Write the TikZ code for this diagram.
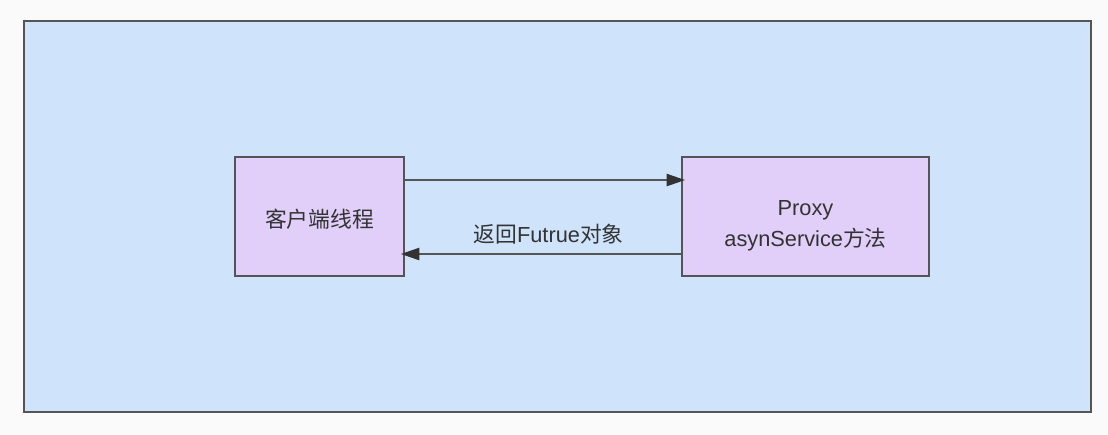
\documentclass[tikz,border=0pt]{standalone}
\usepackage{fontspec}
\setmainfont{Liberation Sans}
\newfontfamily\cjk{Noto Sans CJK SC}
\usetikzlibrary{arrows.meta}
\definecolor{bgblue}{HTML}{CFE3FB}
\definecolor{boxpurple}{HTML}{E1CFF9}
\definecolor{linegray}{HTML}{555555}
\definecolor{tipgray}{HTML}{333333}
\definecolor{textgray}{HTML}{333333}
\definecolor{pagegray}{HTML}{FAFAFA}
\begin{document}
\begin{tikzpicture}[x=0.02cm, y=-0.02cm,
    box/.style={draw=linegray, line width=1.1pt, fill=boxpurple, inner sep=0pt,
        align=center, text=textgray, font=\fontsize{12.4}{17.6}\selectfont},
    link/.style={draw=linegray, line width=0.85pt, shorten >=-0.08cm,
        -{Triangle[length=10.5pt, width=7pt, color=tipgray]}}]
    \fill[pagegray] (0,0) rectangle (1108,434);
    \useasboundingbox (0,0) rectangle (1108,434);
    \draw[draw=linegray, fill=bgblue, line width=1.2pt] (24,21) rectangle (1091,412);

    \node[box, minimum width=3.38cm, minimum height=2.38cm] (client) at (319.5,216.5)
        {\raisebox{-0.06cm}[\height][\depth]{\cjk 客户端线程}};
    \node[box, minimum width=4.94cm, minimum height=2.38cm] (proxy) at (805.5,216.5)
        {\raisebox{-0.17cm}[\height][\depth]{\begin{tabular}{@{}c@{}}Proxy\\asynService{\cjk 方法}\end{tabular}}};

    \draw[link] ([yshift=0.73cm]client.east) -- ([yshift=0.73cm]proxy.west);
    \draw[link] ([yshift=-0.75cm]proxy.west) -- ([yshift=-0.75cm]client.east)
        node[pos=0.48, above, inner sep=5pt, text=textgray, font=\fontsize{12.4}{15}\selectfont] {{\cjk 返回}Futrue{\cjk 对象}};
\end{tikzpicture}
\end{document}
